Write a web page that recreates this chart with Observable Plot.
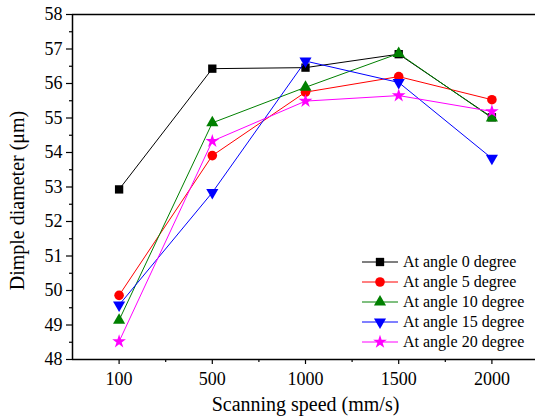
<!DOCTYPE html>
<html>
<head>
<meta charset="utf-8">
<script src="https://cdn.jsdelivr.net/npm/d3@7"></script>
<script src="https://cdn.jsdelivr.net/npm/@observablehq/plot@0.6"></script>
<style>
  html, body { margin: 0; padding: 0; background: #fff; }
  #wrap { position: relative; width: 535px; height: 419px; font-family: "Liberation Serif", "Times New Roman", serif; }
  #legend { position: absolute; left: 358px; top: 252px; }
  #legend .row { display: flex; align-items: center; height: 20px; font-size: 16px; color: #000; white-space: nowrap; font-family: "Liberation Serif", serif; }
  #legend svg { display: block; margin-right: 5px; }
</style>
</head>
<body>
<div id="wrap"></div>
<script>
// ---- data ----
const speeds = ["100", "500", "1000", "1500", "2000"];
const seriesNames = ["At angle 0 degree", "At angle 5 degree", "At angle 10 degree", "At angle 15 degree", "At angle 20 degree"];
const angle0  = [52.93, 56.43, 56.46, 56.85, 55.02];
const angle5  = [49.86, 53.91, 55.75, 56.20, 55.53];
const angle10 = [49.14, 54.86, 55.89, 56.87, 55.00];
const angle15 = [49.58, 52.84, 56.65, 56.03, 53.83];
const angle20 = [48.52, 54.33, 55.49, 55.65, 55.19];
const seriesColors = ["#000000", "#ff0000", "#008000", "#0000ff", "#ff00ff"];
const yTicks = [48, 49, 50, 51, 52, 53, 54, 55, 56, 57, 58];

// down-pointing triangle symbol
const triangleDown = {
  draw(context, size) {
    const sqrt3 = Math.sqrt(3);
    const y = -Math.sqrt(size / (sqrt3 * 3));
    context.moveTo(0, -y * 2);
    context.lineTo(-sqrt3 * y, y);
    context.lineTo(sqrt3 * y, y);
    context.closePath();
  }
};
const symbols = [d3.symbolSquare, d3.symbolCircle, d3.symbolTriangle, triangleDown, d3.symbolStar];
const symbolR = [4.7, 4.8, 4.5, 4.5, 4.3];

const allValues = [angle0, angle5, angle10, angle15, angle20];
const xDomain = [-0.5, 4.5];
const yDomain = [48, 58];

const marks = [];
// frame lines
marks.push(Plot.ruleY([yDomain[1]], {stroke: "#000", strokeWidth: 1.5}));
marks.push(Plot.ruleX([xDomain[0]], {stroke: "#000", strokeWidth: 1.5}));
marks.push(Plot.ruleY([yDomain[0]], {stroke: "#000", strokeWidth: 1.5}));
// axes
marks.push(Plot.axisY({ticks: yTicks, tickSize: 6, tickPadding: 4, fontSize: 18, label: null, tickFormat: d => d, strokeWidth: 1.2}));
marks.push(Plot.axisY({ticks: d3.range(48.5, 58, 1), tickSize: 3, text: null, label: null, strokeWidth: 1.2}));
marks.push(Plot.axisX({ticks: d3.range(speeds.length), tickSize: 5, tickPadding: 8, fontSize: 18, label: null, tickFormat: i => speeds[i], strokeWidth: 1.2}));
marks.push(Plot.axisX({ticks: d3.range(0.5, speeds.length - 1, 1), tickSize: 3, text: null, label: null, strokeWidth: 1.2}));

// series
allValues.forEach((vals, s) => {
  const rows = vals.map((v, i) => ({i, v}));
  marks.push(Plot.line(rows, {x: "i", y: "v", stroke: seriesColors[s], strokeWidth: 1}));
  marks.push(Plot.dot(rows, {x: "i", y: "v", symbol: () => symbols[s], fill: seriesColors[s], stroke: "none", r: symbolR[s]}));
});

// axis titles
marks.push(Plot.text(["Scanning speed (mm/s)"], {text: d => d, frameAnchor: "bottom", lineAnchor: "middle", textAnchor: "middle", dy: 45.5, fontSize: 20}));
marks.push(Plot.text(["Dimple diameter (\u03bcm)"], {text: d => d, frameAnchor: "left", lineAnchor: "middle", textAnchor: "middle", dx: -55, dy: 13.5, rotate: -90, fontSize: 20}));

const chart = Plot.plot({
  width: 535,
  height: 419,
  marginLeft: 72,
  marginRight: -3,
  marginTop: 14,
  marginBottom: 60,
  style: {fontFamily: '"Liberation Serif", "Times New Roman", serif', color: "#000", background: "#fff", overflow: "visible"},
  x: {type: "linear", domain: xDomain},
  y: {type: "linear", domain: yDomain},
  symbol: {type: "identity"},
  marks
});
document.getElementById("wrap").appendChild(chart);

// legend
const legend = d3.select("#wrap").append("div").attr("id", "legend");
seriesNames.forEach((name, s) => {
  const row = legend.append("div").attr("class", "row");
  const svg = row.append("svg").attr("width", 40).attr("height", 20);
  svg.append("line").attr("x1", 4).attr("x2", 40).attr("y1", 10).attr("y2", 10)
    .attr("stroke", seriesColors[s]).attr("stroke-width", 1);
  const r = symbolR[s];
  svg.append("path").attr("transform", "translate(22,10)")
    .attr("d", d3.symbol(symbols[s], Math.PI * r * r)())
    .attr("fill", seriesColors[s]);
  row.append("span").text(name);
});
</script>
</body>
</html>
